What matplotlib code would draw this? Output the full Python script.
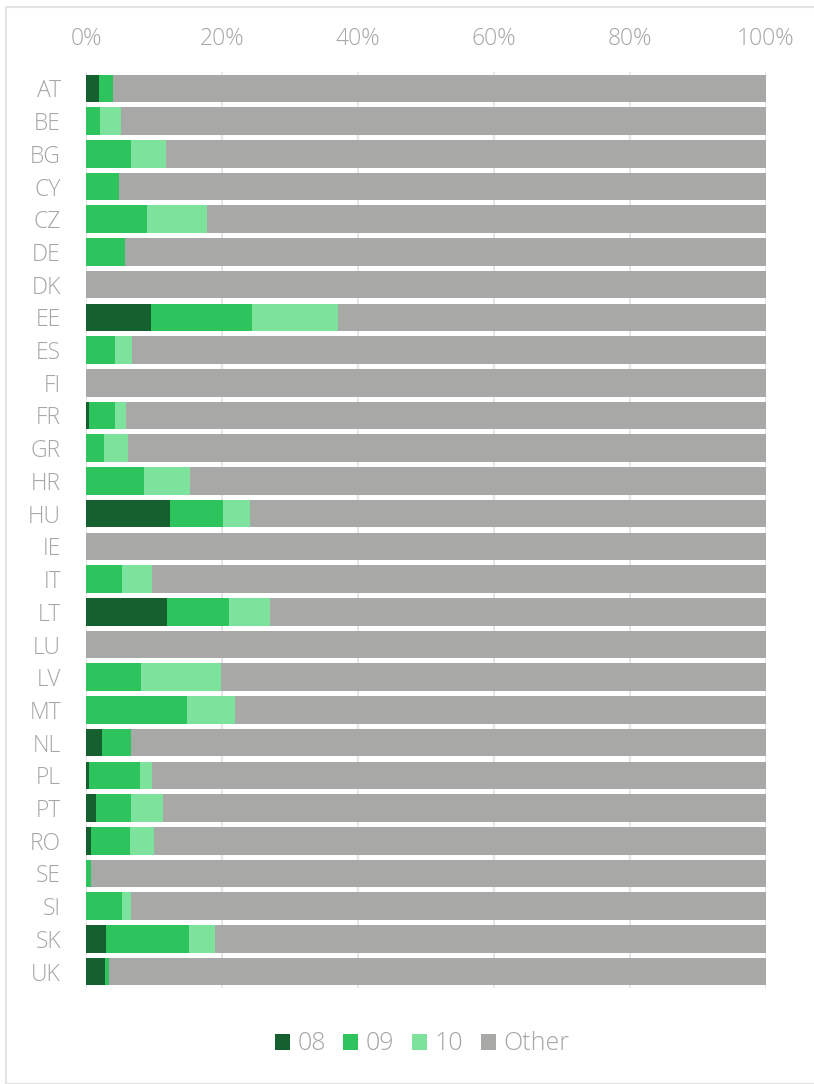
import matplotlib.pyplot as plt
from matplotlib.patches import Rectangle, Patch

countries = ['AT', 'BE', 'BG', 'CY', 'CZ', 'DE', 'DK', 'EE', 'ES', 'FI', 'FR', 'GR', 'HR', 'HU',
             'IE', 'IT', 'LT', 'LU', 'LV', 'MT', 'NL', 'PL', 'PT', 'RO', 'SE', 'SI', 'SK', 'UK']
s08 = [1.9, 0, 0, 0, 0, 0, 0, 9.5, 0, 0, 0.4, 0, 0, 12.3,
       0, 0, 11.9, 0, 0, 0, 2.3, 0.4, 1.4, 0.8, 0, 0, 3.0, 2.8]
s09 = [2.1, 2.1, 6.6, 4.9, 8.9, 5.7, 0, 14.9, 4.3, 0, 3.9, 2.6, 8.5, 7.9,
       0, 5.3, 9.1, 0, 8.1, 14.8, 4.3, 7.5, 5.2, 5.6, 0.7, 5.3, 12.1, 0.6]
s10 = [0, 3.0, 5.1, 0, 8.9, 0, 0, 12.6, 2.5, 0, 1.6, 3.6, 6.8, 3.9,
       0, 4.4, 6.0, 0, 11.8, 7.1, 0, 1.8, 4.7, 3.6, 0, 1.3, 3.8, 0]
other = [100 - a - b - c for a, b, c in zip(s08, s09, s10)]

names = ['08', '09', '10', 'Other']
colors = ['#165f2e', '#2dc45e', '#7de29b', '#a8a9a6']
txt = '#a6a6a6'

plt.rcParams['font.family'] = ['Open Sans', 'DejaVu Sans']
plt.rcParams['font.weight'] = 'light'

fig = plt.figure(figsize=(8.14, 10.84), dpi=100)
ax = fig.add_axes([86/814, 1 - 988/1084, 680/814, 916/1084])

# outer frame
fig.patches.append(Rectangle((6/814, 0), 1, 1 - 7/1084, transform=fig.transFigure,
                             fill=False, edgecolor='#e3e3e3', linewidth=1.5))

y = range(len(countries))
left = [0] * len(countries)
for vals, col in zip([s08, s09, s10, other], colors):
    ax.barh(y, vals, left=left, height=0.84, color=col, linewidth=0)
    left = [l + v for l, v in zip(left, vals)]

ax.set_xlim(0, 100)
ax.set_ylim(len(countries) - 0.5, -0.5)
ax.set_yticks(list(y))
ax.set_yticklabels(countries)
ax.set_xticks([0, 20, 40, 60, 80, 100])
ax.set_xticklabels(['0%', '20%', '40%', '60%', '80%', '100%'])
ax.xaxis.tick_top()
ax.tick_params(axis='x', length=0, pad=15, labelsize=16.5, labelcolor=txt)
ax.tick_params(axis='y', length=0, pad=18, labelsize=16.5, labelcolor=txt)
for s in ax.spines.values():
    s.set_visible(False)
ax.set_axisbelow(True)
ax.grid(axis='x', color='#e6e6e6', linewidth=1.5)

handles = [Patch(facecolor=c, edgecolor='none') for c in colors]
fig.legend(handles, names, loc='center', bbox_to_anchor=(422/814, 1 - 1044/1084), ncol=4,
           frameon=False, fontsize=18, labelcolor=txt, handlelength=0.6, handleheight=0.6,
           handletextpad=0.3, columnspacing=0.7)

fig.savefig('out.png', dpi=100)
